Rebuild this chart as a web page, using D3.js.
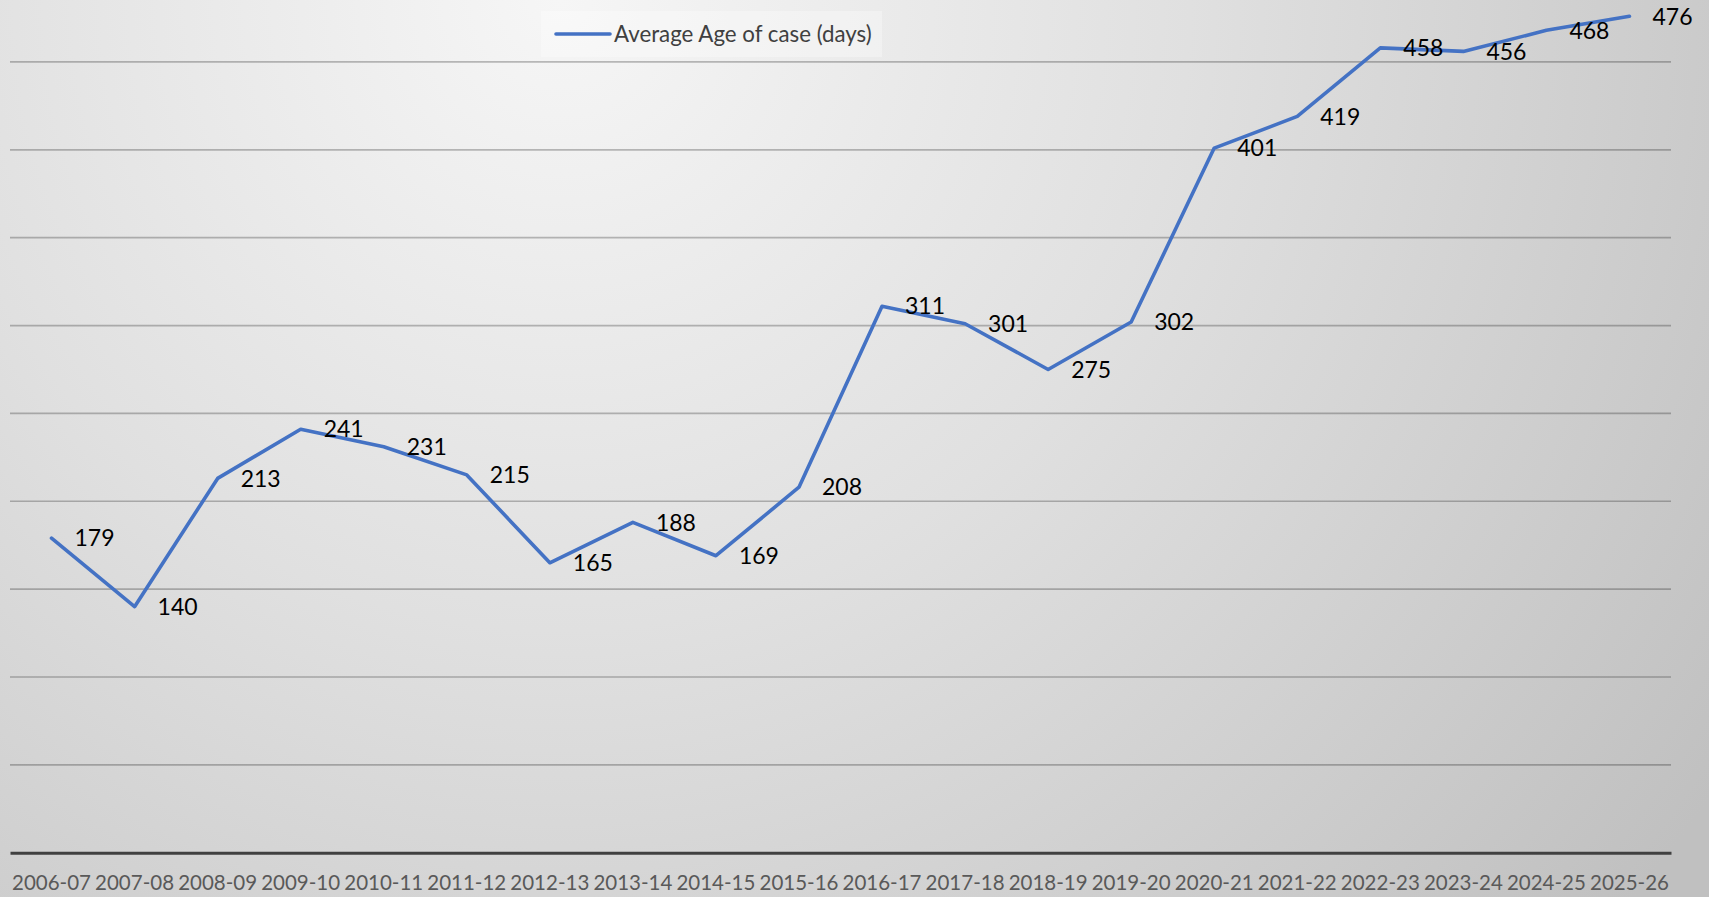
<!DOCTYPE html>
<html>
<head>
<meta charset="utf-8">
<script src="https://cdn.jsdelivr.net/npm/d3@7"></script>
<style>
html,body{margin:0;padding:0;overflow:hidden;background:#ddd;}
svg{display:block;}
</style>
</head>
<body>
<svg id="chart" width="1709" height="897"></svg>
<script>
const categories = ["2006-07","2007-08","2008-09","2009-10","2010-11","2011-12","2012-13","2013-14","2014-15","2015-16","2016-17","2017-18","2018-19","2019-20","2020-21","2021-22","2022-23","2023-24","2024-25","2025-26"];
const values = [179,140,213,241,231,215,165,188,169,208,311,301,275,302,401,419,458,456,468,476];
const seriesName = "Average Age of case (days)";
const yTicks = [50,100,150,200,250,300,350,400,450];

const W = 1709, H = 897;
const svg = d3.select("#chart");
const defs = svg.append("defs");
const grad = defs.append("radialGradient").attr("id","bg")
  .attr("gradientUnits","userSpaceOnUse")
  .attr("cx", 560).attr("cy", 0).attr("r", 1400);
grad.append("stop").attr("offset","0%").attr("stop-color","#f6f6f6");
grad.append("stop").attr("offset","45%").attr("stop-color","#e0e0e0");
grad.append("stop").attr("offset","100%").attr("stop-color","#c0c0c0");
svg.append("rect").attr("width",W).attr("height",H).attr("fill","url(#bg)");

const x = d3.scaleBand().domain(categories).range([10, 1671]).padding(0);
const y = d3.scaleLinear().domain([0, 500]).range([852.7, -25.9]);

// gridlines
svg.append("g").selectAll("line").data(yTicks).join("line")
  .attr("x1", 10).attr("x2", 1671)
  .attr("y1", d => y(d)).attr("y2", d => y(d))
  .attr("stroke", "rgba(0,0,0,0.25)").attr("stroke-width", 1.7);

// x axis
const xAxis = d3.axisBottom(x).tickSize(0).tickPadding(0);
const gx = svg.append("g").attr("transform", `translate(0,${y(0)})`).call(xAxis);
gx.select(".domain").attr("stroke", "#404040").attr("stroke-width", 3);
gx.selectAll("text")
  .attr("font-family", "Lato, sans-serif").attr("font-size", 20.5)
  .attr("fill", "#595959").attr("dy", null).attr("y", 37);

// line
const line = d3.line()
  .x((d, i) => x(categories[i]) + x.bandwidth() / 2)
  .y(d => y(d));
svg.append("path").datum(values)
  .attr("d", line).attr("fill", "none")
  .attr("stroke", "#4472C4").attr("stroke-width", 3.6)
  .attr("stroke-linejoin", "round").attr("stroke-linecap", "round");

// data labels (right)
svg.append("g").selectAll("text").data(values).join("text")
  .attr("x", (d, i) => x(categories[i]) + x.bandwidth() / 2 + 23)
  .attr("y", d => y(d))
  .attr("dy", "0.36em")
  .attr("font-family", "Lato, sans-serif").attr("font-size", 23)
  .attr("fill", "#000")
  .text(d => d);

// legend
const lg = svg.append("g");
lg.append("rect").attr("x", 541).attr("y", 11).attr("width", 341).attr("height", 46)
  .attr("fill", "rgba(255,255,255,0.3)");
lg.append("line").attr("x1", 556).attr("x2", 610).attr("y1", 34).attr("y2", 34)
  .attr("stroke", "#4472C4").attr("stroke-width", 3.6).attr("stroke-linecap","round");
lg.append("text").attr("x", 614).attr("y", 34).attr("dy", "0.36em")
  .attr("font-family", "Lato, sans-serif").attr("font-size", 22.3)
  .attr("fill", "#404040").text(seriesName);
</script>
</body>
</html>
